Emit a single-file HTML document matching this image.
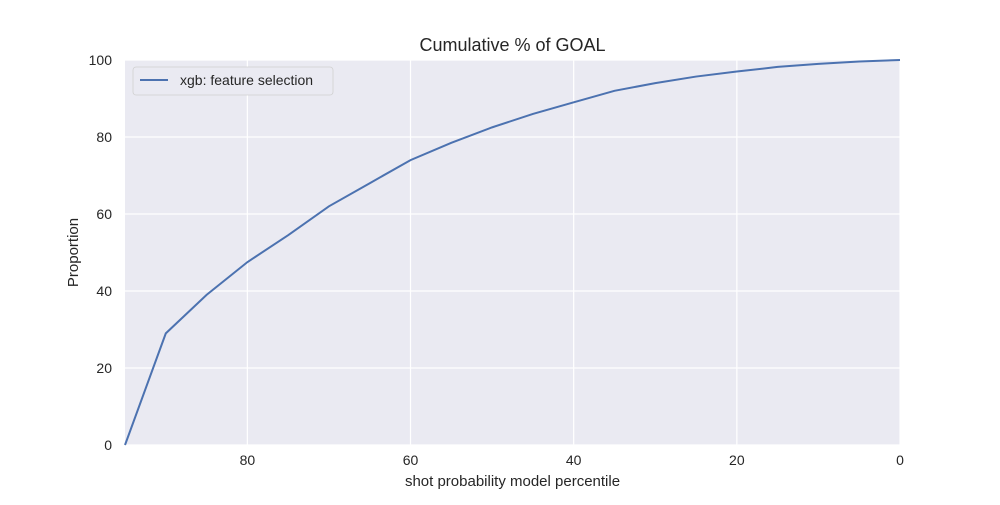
<!DOCTYPE html>
<html><head><meta charset="utf-8"><style>
body{margin:0;background:#fff;}
svg text{font-family:"Liberation Sans","DejaVu Sans",sans-serif;fill:#262626;}
</style></head><body>
<svg id="chart" width="1000" height="500"></svg>
<script>
const xValues=[95,90,85,80,75,70,65,60,55,50,45,40,35,30,25,20,15,10,5,0];
const yValues=[0,29,39,47.5,54.5,62,68,74,78.5,82.5,86,89,92,94,95.7,97,98.2,99,99.6,100];
const xTicks=[80,60,40,20,0];
const yTicks=[0,20,40,60,80,100];
const L=125,R=900,T=60,B=445;
const xs=v=>R-(v/95)*(R-L);
const ys=v=>B-(v/100)*(B-T);
const NS="http://www.w3.org/2000/svg";
const svg=document.getElementById('chart');
function mk(tag,attrs,parent){const e=document.createElementNS(NS,tag);for(const k in attrs)e.setAttribute(k,attrs[k]);(parent||svg).appendChild(e);return e;}
const bg=mk('rect',{x:L,y:T,width:R-L,height:B-T,fill:'#eaeaf2'});


xTicks.forEach(t=>{
  const g=mk('line',{x1:xs(t),x2:xs(t),y1:T,y2:B,stroke:'#fff','stroke-width':1.2});
  
  
  const tx=mk('text',{x:xs(t),y:B+20,'text-anchor':'middle','font-size':14});
  tx.textContent=t;
  
  
});
yTicks.forEach(t=>{
  const g=mk('line',{x1:L,x2:R,y1:ys(t),y2:ys(t),stroke:'#fff','stroke-width':1.2});
  
  
  const tx=mk('text',{x:L-13,y:ys(t)+5,'text-anchor':'end','font-size':14});
  tx.textContent=t;
  
  
});
const pts=xValues.map((x,i)=>xs(x)+','+ys(yValues[i])).join(' ');
const line=mk('polyline',{points:pts,fill:'none',stroke:'#4c72b0','stroke-width':2});


const title=mk('text',{x:(L+R)/2,y:51,'text-anchor':'middle','font-size':18});
title.textContent='Cumulative % of GOAL';


const xl=mk('text',{x:(L+R)/2,y:486,'text-anchor':'middle','font-size':15});
xl.textContent='shot probability model percentile';


const yl=mk('text',{x:0,y:0,'text-anchor':'middle','font-size':15,transform:'translate(78,'+((T+B)/2)+') rotate(-90)'});
yl.textContent='Proportion';


const lg=mk('g',{});


mk('rect',{x:133,y:67,width:200,height:28,rx:3,fill:'#eaeaf2',stroke:'#d0d0d0','stroke-width':0.8},lg);
mk('line',{x1:140,x2:168,y1:80,y2:80,stroke:'#4c72b0','stroke-width':2},lg);
const lt=mk('text',{x:180,y:85,'font-size':14},lg);
lt.textContent='xgb: feature selection';


</script>
</body></html>
